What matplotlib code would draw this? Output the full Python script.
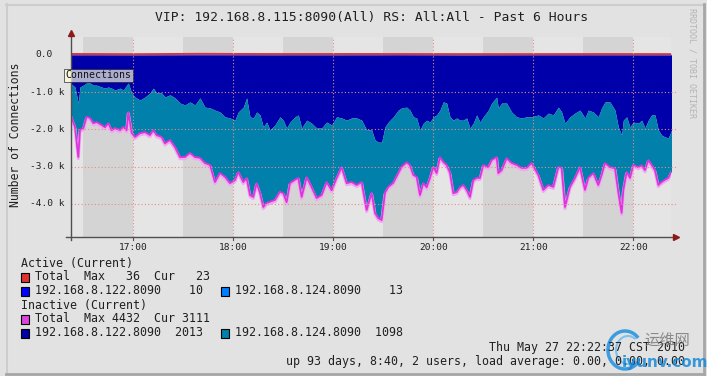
import matplotlib
matplotlib.use("Agg")
import matplotlib.pyplot as plt
import matplotlib.dates as mdates
import matplotlib.transforms as mtransforms
from matplotlib.lines import Line2D
from matplotlib.patches import Rectangle, Arc
import datetime as dt

# ---------------- data ----------------
title = "VIP: 192.168.8.115:8090(All) RS: All:All - Past 6 Hours"
y_label = "Number of Connections"

# minutes after 16:00 on 2010-05-27
minutes = [22, 25, 27, 28, 30, 32, 34, 36, 38, 41, 43, 45, 47, 49, 52, 54, 56, 57, 59, 61,
           64, 67, 70, 72, 74, 77, 79, 82, 85, 88, 91, 94, 97, 100, 103, 106, 109, 112, 115, 118,
           121, 123, 126, 128, 130, 132, 134, 136, 138, 140, 142, 145, 148, 150, 152, 154, 157, 159, 161, 164,
           167, 170, 173, 176, 179, 182, 185, 188, 191, 194, 197, 200, 203, 205, 207, 209, 211, 213, 216, 219,
           221, 224, 226, 228, 230, 232, 234, 236, 238, 240, 242, 244, 246, 248, 250, 252, 254, 256, 258, 260,
           262, 264, 266, 268, 270, 273, 275, 278, 279, 281, 284, 287, 290, 293, 296, 299, 303, 306, 309, 312,
           315, 317, 319, 322, 325, 328, 331, 333, 336, 339, 341, 343, 346, 349, 351, 353, 354, 356, 358, 360,
           363, 365, 367, 369, 371, 373, 375, 377, 379, 381, 383]

inactive_122 = [750, 860, 1290, 860, 810, 750, 750, 810, 810, 860, 890, 860, 890, 940, 890, 940, 810, 750, 1020, 1130,
                1210, 1130, 1020, 890, 1020, 1020, 1130, 1070, 1150, 1290, 1340, 1260, 1340, 1150, 1400, 1420, 1480, 1530, 1660, 1690,
                1750, 1530, 1400, 1150, 1660, 1690, 1530, 1610, 1930, 1800, 2010, 1880, 1660, 1750, 1960, 1800, 1660, 1610, 1960, 1750,
                1830, 1960, 1960, 1800, 1880, 1660, 1690, 1750, 1690, 1690, 1750, 2010, 2010, 2280, 2340, 2340, 1930, 1800, 1660, 1480,
                1420, 1400, 1480, 1660, 1690, 2010, 1830, 1750, 1800, 1660, 1610, 1480, 1260, 1290, 1660, 1750, 1690, 1750, 1750, 1690,
                1960, 1830, 1610, 1800, 1660, 1480, 1290, 1130, 1420, 1290, 1290, 1530, 1660, 1690, 1660, 1660, 1610, 1690, 1560, 1610,
                1400, 1530, 1830, 1660, 1560, 1480, 1690, 1480, 1530, 1660, 1420, 1260, 1260, 1480, 1930, 2150, 1750, 1660, 1930, 1800,
                1830, 1750, 1960, 1750, 1610, 1610, 2010, 2150, 2200, 2230, 2013]

inactive_124 = [810, 1070, 1450, 1150, 1160, 910, 940, 1020, 990, 1020, 1050, 970, 1130, 1020, 1130, 990, 1210, 780, 1070, 1070,
                890, 940, 1130, 1130, 1130, 1180, 1240, 1210, 1320, 1450, 1400, 1370, 1400, 1610, 1500, 1530, 1930, 1640, 1610, 1750,
                1610, 1610, 2010, 2150, 2100, 2120, 1910, 2090, 2150, 2170, 1930, 2010, 2010, 1960, 1990, 1640, 1690, 1690, 1850, 1530,
                1720, 1880, 1800, 1610, 1750, 1640, 1320, 1690, 1720, 1800, 1660, 2150, 1690, 1960, 2040, 2090, 1770, 1740, 1770, 1690,
                1580, 1480, 1480, 1560, 1580, 1750, 1610, 1800, 1500, 1340, 1560, 1260, 1610, 1660, 1500, 1960, 1990, 1800, 1740, 1930,
                1850, 1530, 1690, 1500, 1290, 1530, 1530, 1610, 1750, 1800, 1480, 1370, 1290, 1340, 1370, 1240, 1610, 1930, 1930, 1930,
                1610, 1500, 2250, 1880, 1740, 1530, 1930, 1820, 1640, 1830, 1800, 1640, 1750, 1560, 1750, 2090, 1880, 1480, 1370, 1150,
                1180, 1210, 1130, 1070, 1340, 1480, 1480, 1260, 1150, 1070, 1098]

active_minutes = [22, 60, 100, 140, 180, 220, 260, 300, 340, 383]
active_122 = [12, 9, 14, 11, 10, 13, 8, 12, 11, 10]
active_124 = [15, 12, 17, 14, 16, 12, 15, 11, 14, 13]

y_ticks = [0, -1000, -2000, -3000, -4000]
y_tick_labels = ["0.0", "-1.0 k", "-2.0 k", "-3.0 k", "-4.0 k"]
x_tick_hours = [17, 18, 19, 20, 21, 22]

legend_rows = [
    ("Active (Current)", None, None, None),
    ("Total  Max   36  Cur   23", "#dd3333", None, None),
    ("192.168.8.122.8090    10", "#0000ff", "192.168.8.124.8090    13", "#0080ff"),
    ("Inactive (Current)", None, None, None),
    ("Total  Max 4432  Cur 3111", "#dd44dd", None, None),
    ("192.168.8.122.8090  2013", "#0000aa", "192.168.8.124.8090  1098", "#0080aa"),
]
date_line = "Thu May 27 22:22:37 CST 2010"
uptime_line = "up 93 days, 8:40, 2 users, load average: 0.00, 0.00, 0.00"

# ---------------- figure ----------------
W, H = 707, 376
MONO = "DejaVu Sans Mono"
fig = plt.figure(figsize=(W / 100, H / 100), dpi=100, facecolor="#e2e2e2")


def fx(x):
    return x / W


def fy(y):
    return 1 - y / H


ax = fig.add_axes([fx(71), fy(237), 600 / W, 200 / H])
ax.set_facecolor("#e5e5e5")
for s in ax.spines.values():
    s.set_visible(False)
ax.set_xticks([])
ax.set_yticks([])

base = dt.datetime(2010, 5, 27, 16, 0)
t_start = base + dt.timedelta(minutes=22, seconds=37)
t_end = base + dt.timedelta(hours=6, minutes=22, seconds=37)
tx = mdates.date2num([base + dt.timedelta(minutes=m) for m in minutes])
ta = mdates.date2num([base + dt.timedelta(minutes=m) for m in active_minutes])
ax.set_xlim(mdates.date2num(t_start), mdates.date2num(t_end))
ax.set_ylim(-4886, 483)

# alternating half-hour shading
for h in x_tick_hours:
    a = mdates.date2num(base.replace(hour=h) - dt.timedelta(minutes=30))
    b = mdates.date2num(base.replace(hour=h))
    ax.axvspan(a, b, color="#d4d4d4", zorder=0, lw=0)

neg122 = [-v for v in inactive_122]
tot = [-(a + b) for a, b in zip(inactive_122, inactive_124)]
ax.fill_between(tx, 0, neg122, color="#0000aa", lw=0, zorder=1)
ax.fill_between(tx, neg122, tot, color="#0080aa", lw=0, zorder=1)
off = mtransforms.offset_copy(ax.transData, fig=fig, x=0, y=-1.6, units="dots")
ax.plot(tx, tot, color="#f2a6f2", lw=2.2, zorder=2, transform=off)
ax.plot(tx, tot, color="#dd33dd", lw=1.3, zorder=2.5)

act_tot = [a + b for a, b in zip(active_122, active_124)]
ax.fill_between(ta, 0, active_122, color="#0000ff", lw=0, zorder=2)
ax.fill_between(ta, active_122, act_tot, color="#0080ff", lw=0, zorder=2)
ax.plot(ta, act_tot, color="#dd3333", lw=1.4, zorder=2.6)

# grid (dotted red, on top)
for v in y_ticks[1:]:
    ax.axhline(v, xmin=0, xmax=1.008, color="#e88c8c", ls=(0, (1, 2)), lw=0.8, zorder=3, clip_on=False)
for h in x_tick_hours:
    ax.axvline(mdates.date2num(base.replace(hour=h)), color="#e88c8c", ls=(0, (1, 2)), lw=0.8, zorder=3)

# axes lines with arrows
fig.add_artist(Line2D([fx(71), fx(71)], [fy(240), fy(34)], color="#505050", lw=1))
fig.add_artist(Line2D([fx(66), fx(674)], [fy(237), fy(237)], color="#505050", lw=1))
fig.add_artist(Line2D([fx(71)], [fy(33)], marker="^", ms=5, color="#8b1a1a", lw=0))
fig.add_artist(Line2D([fx(676)], [fy(237)], marker=">", ms=5, color="#8b1a1a", lw=0))

# tick labels
charw = 5.67
for v, lab in zip(y_ticks, y_tick_labels):
    ypix = 237 - (v + 4886) / (4886 + 483) * 200
    xr = 64 if lab.endswith("k") else 64 - 2 * charw
    fig.text(fx(xr), fy(ypix), lab, ha="right", va="center", family=MONO, fontsize=6.8, color="#202020")
for h in x_tick_hours:
    xv = mdates.date2num(base.replace(hour=h))
    xpix = 71 + (xv - mdates.date2num(t_start)) / (mdates.date2num(t_end) - mdates.date2num(t_start)) * 600
    fig.text(fx(xpix), fy(247), f"{h}:00", ha="center", va="center", family=MONO, fontsize=6.8, color="#202020")
    fig.add_artist(Line2D([fx(xpix), fx(xpix)], [fy(237), fy(240)], color="#505050", lw=0.8))

# title & labels
fig.text(fx(371.5), fy(18), title, ha="center", va="center", family=MONO, fontsize=9.4, color="#202020")
fig.text(fx(16), fy(135), y_label, ha="center", va="center", rotation=90, family=MONO, fontsize=8.3, color="#202020")
fig.text(fx(692), fy(63), "RRDTOOL / TOBI OETIKER", ha="center", va="center", rotation=270,
         family=MONO, fontsize=6, color="#b4b4b4")

# tooltip-like box
fig.text(fx(98.5), fy(75.5), "Connections", ha="center", va="center", family=MONO, fontsize=7.1,
         color="#101010", zorder=10,
         bbox=dict(boxstyle="square,pad=0.2", facecolor="#ffffe1", alpha=0.68, edgecolor="#202020", lw=0.7))

# legend
row_y = [263, 277, 291, 305, 319, 333]
for (t1, c1, t2, c2), yy in zip(legend_rows, row_y):
    if c1 is None:
        fig.text(fx(21), fy(yy), t1, ha="left", va="center", family=MONO, fontsize=8.35, color="#202020")
        continue
    fig.add_artist(Rectangle((fx(21), fy(yy + 4.5)), 8 / W, 9 / H, facecolor=c1, edgecolor="#000000", lw=0.8))
    fig.text(fx(35), fy(yy), t1, ha="left", va="center", family=MONO, fontsize=8.35, color="#202020")
    if c2 is not None:
        fig.add_artist(Rectangle((fx(221), fy(yy + 4.5)), 8 / W, 9 / H, facecolor=c2, edgecolor="#000000", lw=0.8))
        fig.text(fx(235), fy(yy), t2, ha="left", va="center", family=MONO, fontsize=8.35, color="#202020")

fig.text(fx(685), fy(347), date_line, ha="right", va="center", family=MONO, fontsize=8.35, color="#202020")
fig.text(fx(685), fy(361), uptime_line, ha="right", va="center", family=MONO, fontsize=8.35, color="#202020")

# frame
fig.add_artist(Line2D([fx(6), fx(703)], [fy(4.5), fy(4.5)], color="#cdcdcd", lw=1.5))
fig.add_artist(Line2D([fx(6.5), fx(6.5)], [fy(4), fy(373)], color="#cdcdcd", lw=1.5))
fig.add_artist(Line2D([fx(703.5), fx(703.5)], [fy(4), fy(374)], color="#a6a6a6", lw=2))
fig.add_artist(Line2D([fx(6), fx(704)], [fy(373.5), fy(373.5)], color="#a6a6a6", lw=2))

# watermark
fig.add_artist(Arc((fx(625), fy(350)), 34 / W, 38 / H, theta1=60, theta2=300, color="#1e90e0", lw=2.5, alpha=0.85))
fig.add_artist(Arc((fx(628), fy(350)), 24 / W, 28 / H, theta1=70, theta2=290, color="#66b8f0", lw=1.5, alpha=0.8))
fig.text(fx(667), fy(341), "运维网", ha="center", va="center", family=["Noto Sans CJK SC", "DejaVu Sans"],
         fontsize=11, color="#7a7a7a", alpha=0.85)
fig.text(fx(665), fy(362), "iyunv.com", ha="center", va="center", family="DejaVu Sans",
         fontsize=11, fontweight="bold", color="#1a8ad8", alpha=0.85)

fig.savefig("out.png", dpi=100, facecolor=fig.get_facecolor())
